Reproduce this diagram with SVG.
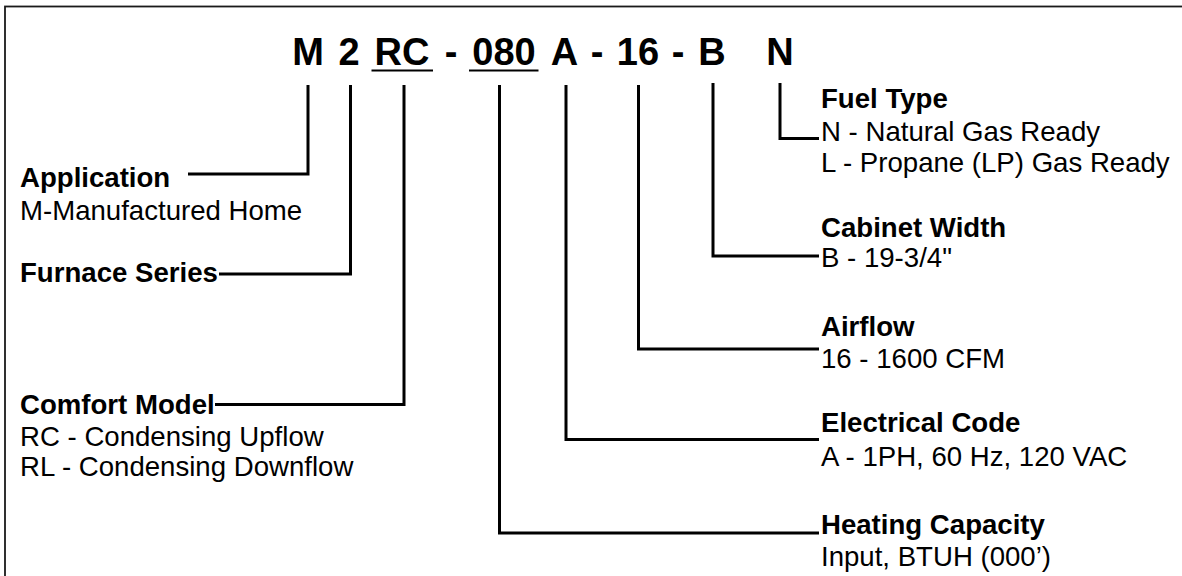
<svg xmlns="http://www.w3.org/2000/svg" width="1182" height="576" viewBox="0 0 1182 576">
<style>
.code{font-family:"Liberation Sans",Arial,sans-serif;font-weight:bold;font-size:38px;fill:#000;text-anchor:middle}
.hd{font-family:"Liberation Sans",Arial,sans-serif;font-weight:bold;font-size:27.6px;fill:#000}
.tx{font-family:"Liberation Sans",Arial,sans-serif;font-size:27.6px;fill:#000}
.ul{stroke:#000;stroke-width:2.2}
.conn path{fill:none;stroke:#000;stroke-width:3;stroke-linejoin:miter;stroke-linecap:butt}
</style>
<rect x="5" y="6.5" width="1200" height="600" fill="#fff" stroke="#1a1a1a" stroke-width="1.8"/>
<g id="code">
<text class="code" x="308" y="65">M</text>
<text class="code" x="349" y="65">2</text>
<text class="code" x="402" y="65">RC</text>
<text class="code" x="451" y="65">-</text>
<text class="code" x="504" y="65">080</text>
<text class="code" x="564.5" y="65">A</text>
<text class="code" x="597" y="65">-</text>
<text class="code" x="638" y="65">16</text>
<text class="code" x="678" y="65">-</text>
<text class="code" x="712" y="65">B</text>
<text class="code" x="780" y="65">N</text>
<line class="ul" x1="371.5" y1="70.5" x2="433" y2="70.5"/>
<line class="ul" x1="469" y1="70.5" x2="538.5" y2="70.5"/>
</g>
<g class="conn" id="connectors">
<path d="M308,85 V174 H188"/>
<path d="M350.5,85 V274 H219"/>
<path d="M404,85 V404.5 H215"/>
<path d="M499.5,85 V533 H819"/>
<path d="M566,85 V439.5 H819"/>
<path d="M638.5,85 V349 H819"/>
<path d="M713,83 V256 H819"/>
<path d="M780,83 V138.5 H819"/>
</g>
<g id="application"><text class="hd" x="20" y="187">Application</text><text class="tx" x="20" y="219.5">M-Manufactured Home</text></g>
<g id="furnace-series"><text class="hd" x="20" y="281.5">Furnace Series</text></g>
<g id="comfort-model"><text class="hd" x="20" y="414">Comfort Model</text><text class="tx" x="20" y="445.5">RC - Condensing Upflow</text><text class="tx" x="20" y="475.5">RL - Condensing Downflow</text></g>
<g id="fuel-type"><text class="hd" x="821" y="108">Fuel Type</text><text class="tx" x="821" y="141">N - Natural Gas Ready</text><text class="tx" x="821" y="171.5">L - Propane (LP) Gas Ready</text></g>
<g id="cabinet-width"><text class="hd" x="821" y="237">Cabinet Width</text><text class="tx" x="821" y="267">B - 19-3/4"</text></g>
<g id="airflow"><text class="hd" x="821" y="336">Airflow</text><text class="tx" x="821" y="368">16 - 1600 CFM</text></g>
<g id="electrical-code"><text class="hd" x="821" y="432">Electrical Code</text><text class="tx" x="821" y="466">A - 1PH, 60 Hz, 120 VAC</text></g>
<g id="heating-capacity"><text class="hd" x="821" y="534">Heating Capacity</text><text class="tx" x="821" y="566">Input, BTUH (000’)</text></g>
</svg>
